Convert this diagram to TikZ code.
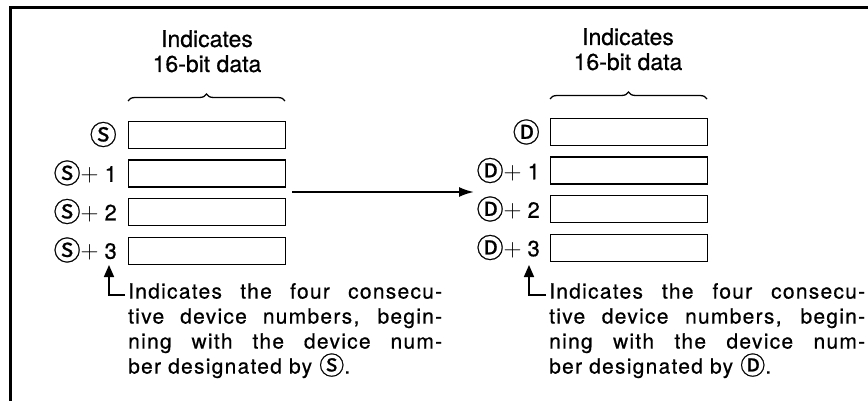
\documentclass[tikz,border=0pt]{standalone}
\usepackage{fontspec}
\setmainfont{TeX Gyre Heros}[FakeBold=0.6]
\newfontfamily\circfont{Noto Sans CJK JP}[FakeBold=0.8]
\usetikzlibrary{arrows.meta,decorations.pathreplacing,calc}

% circled operand marks (label size and in-text size)
\newcommand\SrcMark{\raisebox{-1.5pt}{\circfont\fontsize{27}{27}\selectfont Ⓢ}}
\newcommand\DstMark{\raisebox{-1.5pt}{\circfont\fontsize{27}{27}\selectfont Ⓓ}}
\newcommand\SrcRef{\raisebox{-1pt}{\circfont\fontsize{25}{25}\selectfont Ⓢ}}
\newcommand\DstRef{\raisebox{-1pt}{\circfont\fontsize{25}{25}\selectfont Ⓓ}}
\newcommand\PlusN[1]{{\fontsize{28}{28}\selectfont$+$}\hspace{6pt}#1}

\begin{document}
\begin{tikzpicture}[x=1pt,y=-1pt,
  frameline/.style={line width=3pt},
  cell/.style={draw, line width=1.4pt, minimum width=157pt, minimum height=27pt,
    inner sep=0pt, anchor=north west},
  reglabel/.style={anchor=east, inner sep=0pt, font=\fontsize{22}{24}\selectfont},
  heading/.style={align=center, anchor=north, inner sep=0pt,
    font=\fontsize{23}{25}\selectfont},
  note/.style={anchor=north west, align=left, inner sep=0pt,
    font=\fontsize{21}{25}\selectfont\addfontfeatures{LetterSpace=6}},
  bracket/.style={decorate, decoration={brace, amplitude=7pt}, line width=1.3pt},
  leader/.style={line width=1.6pt, -{Triangle[length=12pt,width=10pt]}},
  transfer/.style={line width=2pt, -{Latex[length=15pt,width=10pt]}}
]
\useasboundingbox (0,0) rectangle (868,401);

% frame
\draw[frameline] (868,7.5) -- (10.5,7.5) -- (10.5,401);

% source registers
\node[cell] (s0) at (128,121) {};
\node[cell] (s1) at (128,159.5) {};
\node[cell] (s2) at (128,198) {};
\node[cell] (s3) at (128,236.5) {};
\node[reglabel] (ls0) at (117,134.5) {\SrcMark};
\node[reglabel] (ls1) at (117,173) {\SrcMark\PlusN{1}};
\node[reglabel] (ls2) at (117,211.5) {\SrcMark\PlusN{2}};
\node[reglabel] (ls3) at (117,250) {\SrcMark\PlusN{3}};
\draw[bracket] (128,101) -- (285,101);
\node[heading] (hs) at (207,30) {Indicates\\16-bit data};

% destination registers
\node[cell] (d0) at (550,118) {};
\node[cell] (d1) at (550,156.5) {};
\node[cell] (d2) at (550,195) {};
\node[cell] (d3) at (550,233.5) {};
\node[reglabel] (ld0) at (540,132) {\DstMark};
\node[reglabel] (ld1) at (540,170.5) {\DstMark\PlusN{1}};
\node[reglabel] (ld2) at (540,209) {\DstMark\PlusN{2}};
\node[reglabel] (ld3) at (540,247.5) {\DstMark\PlusN{3}};
\draw[bracket] (550,99) -- (707,99);
\node[heading] (hd) at (628,28) {Indicates\\16-bit data};

% transfer arrow
\coordinate (arrS) at (292,192);
\coordinate (arrE) at (474,192);
\draw[transfer] (arrS) -- (arrE);

% explanatory notes
\node[note] (ns) at (128,283) {%
  \makebox[314pt][s]{Indicates the four consecu-}\\
  \makebox[314pt][s]{tive device numbers, begin-}\\
  \makebox[314pt][s]{ning with the device num-}\\
  ber designated by \SrcRef.};
\node[note] (nd) at (549,283) {%
  \makebox[316pt][s]{Indicates the four consecu-}\\
  \makebox[316pt][s]{tive device numbers, begin-}\\
  \makebox[316pt][s]{ning with the device num-}\\
  ber designated by \DstRef.};

% leaders from the notes up to the last register label
\coordinate (sc) at (109,295);
\coordinate (st) at (109,265);
\coordinate (se) at (125,295);
\draw[leader] (se) -- (sc) -- (st);
\coordinate (dc) at (529,295);
\coordinate (dt) at (529,265);
\coordinate (de) at (546,295);
\draw[leader] (de) -- (dc) -- (dt);
\end{tikzpicture}
\end{document}
